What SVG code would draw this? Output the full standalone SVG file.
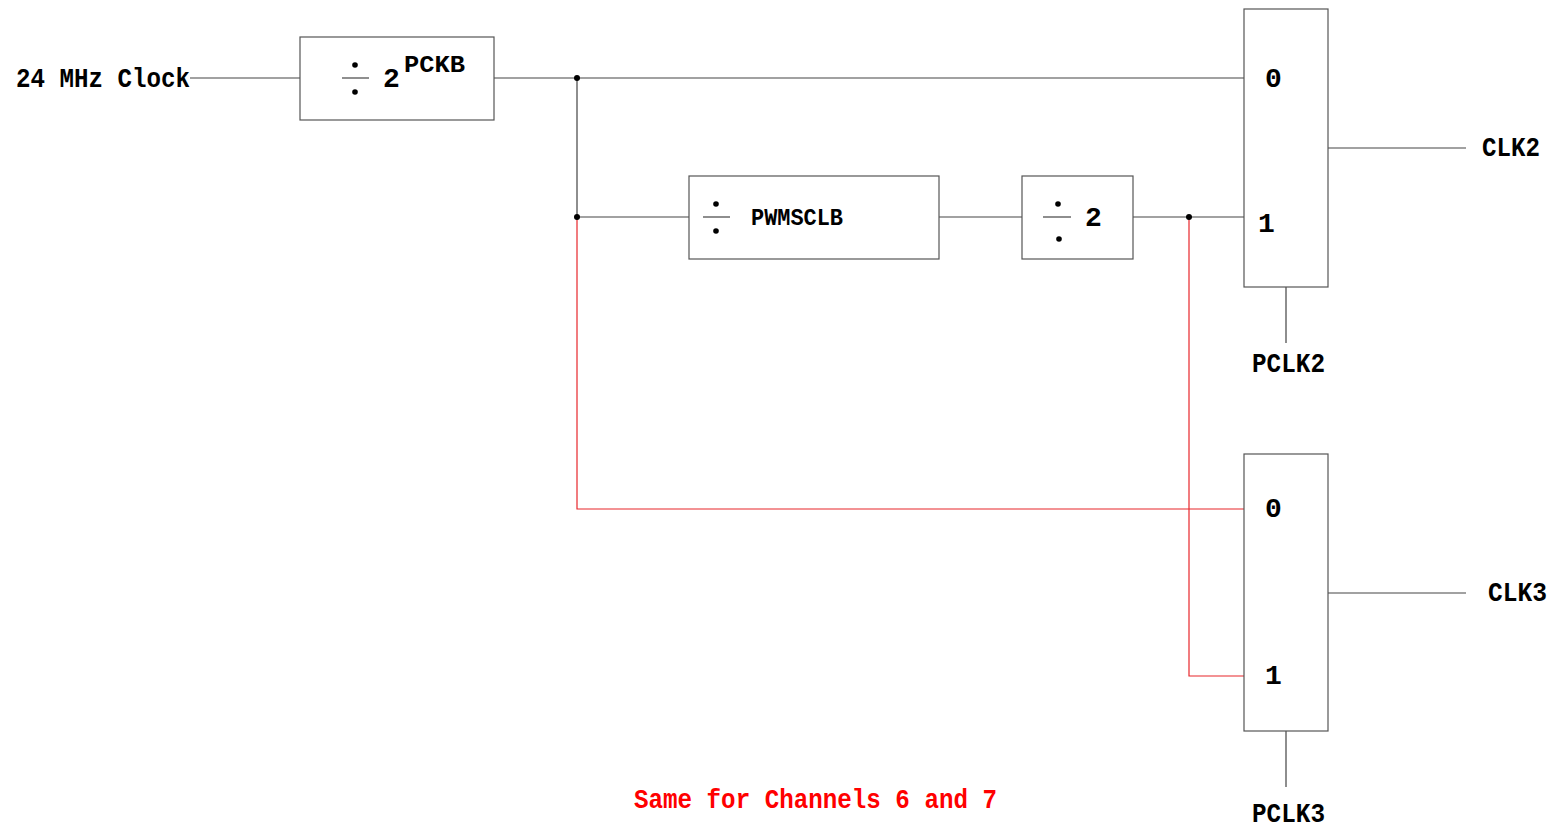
<svg xmlns="http://www.w3.org/2000/svg" width="1555" height="827" viewBox="0 0 1555 827">
<style>
.box{fill:#fff;stroke:#555;stroke-width:1.2}
.w{fill:none;stroke:#444;stroke-width:1.2}
.r{fill:none;stroke:#e8262b;stroke-width:1.2}
.t{font-family:"Liberation Mono","Courier New",monospace;font-weight:bold;font-size:28px;fill:#000}
.s{font-size:24px}
.red{fill:#ff0000}
.dot{fill:#000}
</style>
<g id="connectors">
<path class="w" d="M190 78H300M494 78H1244M577 78V217M577 217H689M939 217H1022M1133 217H1244M1328 148H1466M1286 287V343M1328 593H1466M1286 731V787"/>
<path class="r" d="M577 217V509H1244M1189 217V676H1244"/>
<circle class="dot" cx="577" cy="78" r="3"/>
<circle class="dot" cx="577" cy="217" r="3"/>
<circle class="dot" cx="1189" cy="217" r="3"/>
</g>
<g id="clock-in"><text class="t" x="16" y="87" textLength="174" lengthAdjust="spacingAndGlyphs">24 MHz Clock</text></g>
<g id="div-pckb">
<rect class="box" x="300" y="37" width="194" height="83"/>
<circle class="dot" cx="355" cy="65" r="2.8"/><circle class="dot" cx="355" cy="92" r="2.8"/>
<line class="w" x1="342" y1="78" x2="369" y2="78"/>
<text class="t" x="383" y="87">2</text>
<text class="t s" x="404" y="72" textLength="61" lengthAdjust="spacingAndGlyphs">PCKB</text>
</g>
<g id="div-pwmsclb">
<rect class="box" x="689" y="176" width="250" height="83"/>
<circle class="dot" cx="716" cy="204" r="2.8"/><circle class="dot" cx="716" cy="231" r="2.8"/>
<line class="w" x1="703" y1="217" x2="730" y2="217"/>
<text class="t s" x="751" y="225" textLength="92" lengthAdjust="spacingAndGlyphs">PWMSCLB</text>
</g>
<g id="div-2">
<rect class="box" x="1022" y="176" width="111" height="83"/>
<circle class="dot" cx="1058" cy="204" r="2.8"/><circle class="dot" cx="1059" cy="239" r="2.8"/>
<line class="w" x1="1043" y1="217" x2="1071" y2="217"/>
<text class="t" x="1085" y="226">2</text>
</g>
<g id="mux2">
<rect class="box" x="1244" y="9" width="84" height="278"/>
<text class="t" x="1265" y="87">0</text>
<text class="t" x="1258" y="232">1</text>
<text class="t" x="1482" y="156" textLength="58" lengthAdjust="spacingAndGlyphs">CLK2</text>
<text class="t" x="1252" y="372" textLength="73" lengthAdjust="spacingAndGlyphs">PCLK2</text>
</g>
<g id="mux3">
<rect class="box" x="1244" y="454" width="84" height="277"/>
<text class="t" x="1265" y="517">0</text>
<text class="t" x="1265" y="684">1</text>
<text class="t" x="1488" y="601" textLength="59" lengthAdjust="spacingAndGlyphs">CLK3</text>
<text class="t" x="1252" y="822" textLength="73" lengthAdjust="spacingAndGlyphs">PCLK3</text>
</g>
<g id="note"><text class="t red" x="634" y="808" textLength="363" lengthAdjust="spacingAndGlyphs">Same for Channels 6 and 7</text></g>
</svg>
